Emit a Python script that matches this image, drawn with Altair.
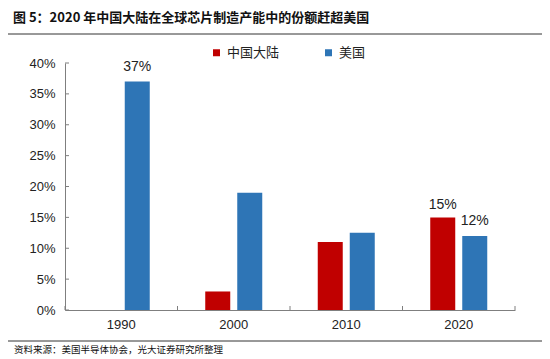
import altair as alt
import pandas as pd

years = ["1990", "2000", "2010", "2020"]
china = [0.0, 0.03, 0.11, 0.15]
usa = [0.37, 0.19, 0.125, 0.12]
series = ["中国大陆", "美国"]
colors = ["#C00000", "#2E75B6"]
y_ticks = [0, 0.05, 0.10, 0.15, 0.20, 0.25, 0.30, 0.35, 0.40]
title_text = "图 5：2020 年中国大陆在全球芯片制造产能中的份额赶超美国"
source_text = "资料来源：美国半导体协会，光大证券研究所整理"
china_labels = ["", "", "", "15%"]
usa_labels = ["37%", "", "", "12%"]

rows = []
for i, y in enumerate(years):
    rows.append({"year": y, "series": series[0], "value": china[i], "label": china_labels[i]})
    rows.append({"year": y, "series": series[1], "value": usa[i], "label": usa_labels[i]})
df = pd.DataFrame(rows)
year_df = pd.DataFrame({"year": years})
tick_df = pd.DataFrame({"value": y_ticks})

FONT = "Noto Sans CJK SC"
NUMFONT = "Liberation Sans"
AXIS_COLOR = "#7f7f7f"

x_axis = alt.Axis(title=None, labelAngle=0, labelFontSize=13, labelFont=NUMFONT,
                  labelColor="#222222", labelPadding=8, ticks=False,
                  domainColor=AXIS_COLOR)
x_scale = alt.Scale(paddingInner=0, paddingOuter=0)
x_enc = alt.X("year:N", sort=years, scale=x_scale, axis=x_axis)
xoff = alt.XOffset("series:N", sort=series,
                   scale=alt.Scale(paddingInner=0.21875, paddingOuter=0.867))
y_enc = alt.Y("value:Q",
              scale=alt.Scale(domain=[0, 0.4], nice=False),
              axis=alt.Axis(title=None, values=y_ticks, format=".0%", grid=False,
                            labelOverlap=False, labelFontSize=13, labelFont=NUMFONT,
                            labelColor="#222222", labelPadding=10, ticks=False,
                            domainColor=AXIS_COLOR))
color_enc = alt.Color("series:N", sort=series,
                      scale=alt.Scale(domain=series, range=colors),
                      legend=alt.Legend(title=None, orient="none", direction="horizontal",
                                        legendX=145, legendY=-17, symbolType="square",
                                        symbolSize=49, symbolStrokeWidth=0,
                                        labelFont=FONT, labelFontSize=13,
                                        labelColor="#222222", labelOffset=4,
                                        columnPadding=42, padding=0))

bars = alt.Chart(df).mark_bar().encode(x=x_enc, xOffset=xoff, y=y_enc, color=color_enc)

lab_china = alt.Chart(df).transform_filter(alt.datum.series == series[0]).mark_text(
    baseline="bottom", dy=-5, fontSize=14, font=NUMFONT, color="#222222"
).encode(x=x_enc, xOffset=xoff, y=y_enc, text="label:N")
lab_usa = alt.Chart(df).transform_filter(alt.datum.series == series[1]).mark_text(
    baseline="bottom", dy=-8, fontSize=14, font=NUMFONT, color="#222222"
).encode(x=x_enc, xOffset=xoff, y=y_enc, text="label:N")

# inward ticks
y_tick_marks = alt.Chart(tick_df).mark_rule(color=AXIS_COLOR, strokeWidth=1).encode(
    y=y_enc, x=alt.value(0), x2=alt.value(4))
x_tick_start = alt.Chart(year_df).mark_rule(color=AXIS_COLOR, strokeWidth=1).encode(
    x=alt.X("year:N", sort=years, scale=x_scale, axis=x_axis, bandPosition=0),
    y=alt.value(243), y2=alt.value(247))
x_tick_end = alt.Chart(year_df).transform_filter(alt.datum.year == years[-1]).mark_rule(
    color=AXIS_COLOR, strokeWidth=1).encode(
    x=alt.X("year:N", sort=years, scale=x_scale, axis=x_axis, bandPosition=1),
    y=alt.value(243), y2=alt.value(247))

title = alt.Chart(pd.DataFrame({"t": [title_text]})).mark_text(
    align="left", baseline="middle", fontSize=13, fontWeight="bold", font=FONT, color="#111111"
).encode(x=alt.value(-52), y=alt.value(-45), text="t:N")
title_line = alt.Chart(pd.DataFrame({"a": [0]})).mark_rule(color="#333333", strokeWidth=1).encode(
    x=alt.value(-57), x2=alt.value(480), y=alt.value(-29))
foot_line = alt.Chart(pd.DataFrame({"a": [0]})).mark_rule(color="#333333", strokeWidth=1).encode(
    x=alt.value(-57), x2=alt.value(480), y=alt.value(278))
source = alt.Chart(pd.DataFrame({"t": [source_text]})).mark_text(
    align="left", baseline="middle", fontSize=9.5, font=FONT, color="#111111"
).encode(x=alt.value(-51), y=alt.value(287), text="t:N")

chart = alt.layer(bars, lab_china, lab_usa, y_tick_marks, x_tick_start, x_tick_end,
                  title, title_line, foot_line, source).properties(
    width=450, height=247,
    autosize=alt.AutoSizeParams(type="none"),
    padding={"left": 57, "top": 55, "right": 27, "bottom": 49},
).configure_view(stroke=None)

chart.save("out.html", embed_options={"renderer": "svg", "actions": False})
